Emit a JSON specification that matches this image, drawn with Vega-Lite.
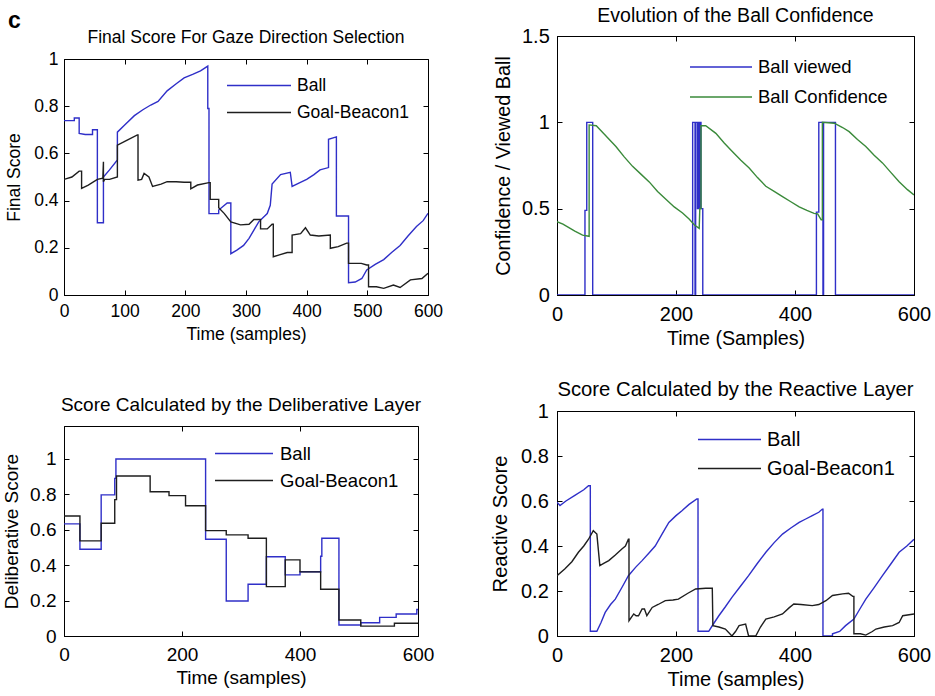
{
 "$schema": "https://vega.github.io/schema/vega-lite/v6.json",
 "background": "white",
 "padding": {"left": 2, "top": 5, "right": 3, "bottom": 3},
 "datasets": {
  "p1": [
   {"t":0,"v":0.739,"s":"Ball"},{"t":17,"v":0.739,"s":"Ball"},{"t":17,"v":0.75,"s":"Ball"},{"t":25,"v":0.75,"s":"Ball"},{"t":25,"v":0.685,"s":"Ball"},{"t":35,"v":0.68,"s":"Ball"},{"t":47,"v":0.68,"s":"Ball"},{"t":47,"v":0.70,"s":"Ball"},{"t":55,"v":0.70,"s":"Ball"},{"t":55,"v":0.306,"s":"Ball"},{"t":65,"v":0.306,"s":"Ball"},{"t":65,"v":0.50,"s":"Ball"},{"t":75,"v":0.53,"s":"Ball"},{"t":88,"v":0.572,"s":"Ball"},{"t":88,"v":0.69,"s":"Ball"},{"t":100,"v":0.72,"s":"Ball"},{"t":116,"v":0.76,"s":"Ball"},{"t":130,"v":0.785,"s":"Ball"},{"t":143,"v":0.805,"s":"Ball"},{"t":155,"v":0.82,"s":"Ball"},{"t":170,"v":0.865,"s":"Ball"},{"t":185,"v":0.895,"s":"Ball"},{"t":198,"v":0.92,"s":"Ball"},{"t":212,"v":0.935,"s":"Ball"},{"t":225,"v":0.95,"s":"Ball"},{"t":237,"v":0.97,"s":"Ball"},{"t":237,"v":0.79,"s":"Ball"},{"t":239,"v":0.79,"s":"Ball"},{"t":239,"v":0.345,"s":"Ball"},{"t":255,"v":0.345,"s":"Ball"},{"t":255,"v":0.36,"s":"Ball"},{"t":262,"v":0.375,"s":"Ball"},{"t":269,"v":0.39,"s":"Ball"},{"t":275,"v":0.39,"s":"Ball"},{"t":275,"v":0.175,"s":"Ball"},{"t":285,"v":0.19,"s":"Ball"},{"t":296,"v":0.21,"s":"Ball"},{"t":305,"v":0.24,"s":"Ball"},{"t":313,"v":0.275,"s":"Ball"},{"t":321,"v":0.31,"s":"Ball"},{"t":335,"v":0.345,"s":"Ball"},{"t":340,"v":0.38,"s":"Ball"},{"t":343,"v":0.47,"s":"Ball"},{"t":357,"v":0.51,"s":"Ball"},{"t":373,"v":0.52,"s":"Ball"},{"t":376,"v":0.46,"s":"Ball"},{"t":388,"v":0.475,"s":"Ball"},{"t":400,"v":0.49,"s":"Ball"},{"t":412,"v":0.51,"s":"Ball"},{"t":422,"v":0.53,"s":"Ball"},{"t":436,"v":0.54,"s":"Ball"},{"t":436,"v":0.66,"s":"Ball"},{"t":449,"v":0.67,"s":"Ball"},{"t":449,"v":0.335,"s":"Ball"},{"t":469,"v":0.335,"s":"Ball"},{"t":469,"v":0.052,"s":"Ball"},{"t":480,"v":0.055,"s":"Ball"},{"t":491,"v":0.07,"s":"Ball"},{"t":499,"v":0.106,"s":"Ball"},{"t":513,"v":0.13,"s":"Ball"},{"t":527,"v":0.15,"s":"Ball"},{"t":540,"v":0.18,"s":"Ball"},{"t":554,"v":0.21,"s":"Ball"},{"t":567,"v":0.25,"s":"Ball"},{"t":581,"v":0.29,"s":"Ball"},{"t":592,"v":0.315,"s":"Ball"},{"t":600,"v":0.346,"s":"Ball"},
   {"t":0,"v":0.49,"s":"Goal-Beacon1"},{"t":13,"v":0.50,"s":"Goal-Beacon1"},{"t":25,"v":0.525,"s":"Goal-Beacon1"},{"t":29,"v":0.525,"s":"Goal-Beacon1"},{"t":29,"v":0.452,"s":"Goal-Beacon1"},{"t":40,"v":0.466,"s":"Goal-Beacon1"},{"t":55,"v":0.49,"s":"Goal-Beacon1"},{"t":64,"v":0.495,"s":"Goal-Beacon1"},{"t":65,"v":0.565,"s":"Goal-Beacon1"},{"t":65,"v":0.48,"s":"Goal-Beacon1"},{"t":67,"v":0.49,"s":"Goal-Beacon1"},{"t":75,"v":0.49,"s":"Goal-Beacon1"},{"t":88,"v":0.50,"s":"Goal-Beacon1"},{"t":88,"v":0.635,"s":"Goal-Beacon1"},{"t":105,"v":0.657,"s":"Goal-Beacon1"},{"t":121,"v":0.678,"s":"Goal-Beacon1"},{"t":122,"v":0.678,"s":"Goal-Beacon1"},{"t":122,"v":0.487,"s":"Goal-Beacon1"},{"t":128,"v":0.49,"s":"Goal-Beacon1"},{"t":132,"v":0.515,"s":"Goal-Beacon1"},{"t":140,"v":0.50,"s":"Goal-Beacon1"},{"t":146,"v":0.46,"s":"Goal-Beacon1"},{"t":160,"v":0.47,"s":"Goal-Beacon1"},{"t":170,"v":0.48,"s":"Goal-Beacon1"},{"t":185,"v":0.48,"s":"Goal-Beacon1"},{"t":198,"v":0.478,"s":"Goal-Beacon1"},{"t":209,"v":0.478,"s":"Goal-Beacon1"},{"t":209,"v":0.45,"s":"Goal-Beacon1"},{"t":220,"v":0.466,"s":"Goal-Beacon1"},{"t":239,"v":0.476,"s":"Goal-Beacon1"},{"t":241,"v":0.476,"s":"Goal-Beacon1"},{"t":241,"v":0.405,"s":"Goal-Beacon1"},{"t":255,"v":0.405,"s":"Goal-Beacon1"},{"t":255,"v":0.37,"s":"Goal-Beacon1"},{"t":264,"v":0.346,"s":"Goal-Beacon1"},{"t":275,"v":0.31,"s":"Goal-Beacon1"},{"t":291,"v":0.297,"s":"Goal-Beacon1"},{"t":305,"v":0.30,"s":"Goal-Beacon1"},{"t":313,"v":0.32,"s":"Goal-Beacon1"},{"t":324,"v":0.32,"s":"Goal-Beacon1"},{"t":324,"v":0.28,"s":"Goal-Beacon1"},{"t":335,"v":0.28,"s":"Goal-Beacon1"},{"t":343,"v":0.30,"s":"Goal-Beacon1"},{"t":345,"v":0.30,"s":"Goal-Beacon1"},{"t":345,"v":0.162,"s":"Goal-Beacon1"},{"t":355,"v":0.17,"s":"Goal-Beacon1"},{"t":368,"v":0.18,"s":"Goal-Beacon1"},{"t":376,"v":0.18,"s":"Goal-Beacon1"},{"t":376,"v":0.254,"s":"Goal-Beacon1"},{"t":390,"v":0.26,"s":"Goal-Beacon1"},{"t":398,"v":0.285,"s":"Goal-Beacon1"},{"t":406,"v":0.254,"s":"Goal-Beacon1"},{"t":420,"v":0.25,"s":"Goal-Beacon1"},{"t":439,"v":0.254,"s":"Goal-Beacon1"},{"t":439,"v":0.198,"s":"Goal-Beacon1"},{"t":452,"v":0.205,"s":"Goal-Beacon1"},{"t":466,"v":0.22,"s":"Goal-Beacon1"},{"t":469,"v":0.22,"s":"Goal-Beacon1"},{"t":469,"v":0.134,"s":"Goal-Beacon1"},{"t":490,"v":0.134,"s":"Goal-Beacon1"},{"t":499,"v":0.127,"s":"Goal-Beacon1"},{"t":502,"v":0.127,"s":"Goal-Beacon1"},{"t":502,"v":0.035,"s":"Goal-Beacon1"},{"t":515,"v":0.035,"s":"Goal-Beacon1"},{"t":527,"v":0.028,"s":"Goal-Beacon1"},{"t":543,"v":0.042,"s":"Goal-Beacon1"},{"t":554,"v":0.032,"s":"Goal-Beacon1"},{"t":571,"v":0.064,"s":"Goal-Beacon1"},{"t":590,"v":0.07,"s":"Goal-Beacon1"},{"t":600,"v":0.092,"s":"Goal-Beacon1"}
  ],
  "p2": [
   {"t":0,"v":0,"s":"Ball viewed"},{"t":47,"v":0,"s":"Ball viewed"},{"t":47,"v":0.49,"s":"Ball viewed"},{"t":50,"v":0.49,"s":"Ball viewed"},{"t":50,"v":1,"s":"Ball viewed"},{"t":60,"v":1,"s":"Ball viewed"},{"t":60,"v":0,"s":"Ball viewed"},{"t":228,"v":0,"s":"Ball viewed"},{"t":228,"v":1,"s":"Ball viewed"},{"t":232,"v":1,"s":"Ball viewed"},{"t":232,"v":0,"s":"Ball viewed"},{"t":233,"v":0,"s":"Ball viewed"},{"t":233,"v":1,"s":"Ball viewed"},{"t":236,"v":1,"s":"Ball viewed"},{"t":236,"v":0.5,"s":"Ball viewed"},{"t":237,"v":0.5,"s":"Ball viewed"},{"t":237,"v":1,"s":"Ball viewed"},{"t":238,"v":1,"s":"Ball viewed"},{"t":238,"v":0.5,"s":"Ball viewed"},{"t":239,"v":0.5,"s":"Ball viewed"},{"t":239,"v":1,"s":"Ball viewed"},{"t":240,"v":1,"s":"Ball viewed"},{"t":240,"v":0.5,"s":"Ball viewed"},{"t":241,"v":0.5,"s":"Ball viewed"},{"t":241,"v":1,"s":"Ball viewed"},{"t":242,"v":1,"s":"Ball viewed"},{"t":242,"v":0.5,"s":"Ball viewed"},{"t":245,"v":0.5,"s":"Ball viewed"},{"t":245,"v":0,"s":"Ball viewed"},{"t":436,"v":0,"s":"Ball viewed"},{"t":436,"v":0.48,"s":"Ball viewed"},{"t":440,"v":0.48,"s":"Ball viewed"},{"t":440,"v":1,"s":"Ball viewed"},{"t":447,"v":1,"s":"Ball viewed"},{"t":447,"v":0,"s":"Ball viewed"},{"t":448,"v":0,"s":"Ball viewed"},{"t":448,"v":1,"s":"Ball viewed"},{"t":468,"v":1,"s":"Ball viewed"},{"t":468,"v":0,"s":"Ball viewed"},{"t":600,"v":0,"s":"Ball viewed"},
   {"t":0,"v":0.425,"s":"Ball Confidence"},{"t":10,"v":0.41,"s":"Ball Confidence"},{"t":20,"v":0.39,"s":"Ball Confidence"},{"t":30,"v":0.37,"s":"Ball Confidence"},{"t":43,"v":0.347,"s":"Ball Confidence"},{"t":54,"v":0.34,"s":"Ball Confidence"},{"t":54,"v":0.985,"s":"Ball Confidence"},{"t":66,"v":0.98,"s":"Ball Confidence"},{"t":80,"v":0.93,"s":"Ball Confidence"},{"t":99,"v":0.86,"s":"Ball Confidence"},{"t":113,"v":0.80,"s":"Ball Confidence"},{"t":127,"v":0.745,"s":"Ball Confidence"},{"t":141,"v":0.70,"s":"Ball Confidence"},{"t":155,"v":0.655,"s":"Ball Confidence"},{"t":169,"v":0.60,"s":"Ball Confidence"},{"t":183,"v":0.555,"s":"Ball Confidence"},{"t":197,"v":0.51,"s":"Ball Confidence"},{"t":211,"v":0.475,"s":"Ball Confidence"},{"t":222,"v":0.44,"s":"Ball Confidence"},{"t":231,"v":0.405,"s":"Ball Confidence"},{"t":239,"v":0.386,"s":"Ball Confidence"},{"t":240,"v":0.5,"s":"Ball Confidence"},{"t":242,"v":0.5,"s":"Ball Confidence"},{"t":242,"v":0.98,"s":"Ball Confidence"},{"t":250,"v":0.98,"s":"Ball Confidence"},{"t":267,"v":0.936,"s":"Ball Confidence"},{"t":281,"v":0.88,"s":"Ball Confidence"},{"t":295,"v":0.83,"s":"Ball Confidence"},{"t":309,"v":0.78,"s":"Ball Confidence"},{"t":323,"v":0.735,"s":"Ball Confidence"},{"t":337,"v":0.68,"s":"Ball Confidence"},{"t":351,"v":0.63,"s":"Ball Confidence"},{"t":365,"v":0.60,"s":"Ball Confidence"},{"t":379,"v":0.57,"s":"Ball Confidence"},{"t":393,"v":0.54,"s":"Ball Confidence"},{"t":407,"v":0.51,"s":"Ball Confidence"},{"t":420,"v":0.49,"s":"Ball Confidence"},{"t":432,"v":0.473,"s":"Ball Confidence"},{"t":438,"v":0.47,"s":"Ball Confidence"},{"t":444,"v":0.435,"s":"Ball Confidence"},{"t":446,"v":0.435,"s":"Ball Confidence"},{"t":446,"v":1.0,"s":"Ball Confidence"},{"t":466,"v":0.995,"s":"Ball Confidence"},{"t":480,"v":0.97,"s":"Ball Confidence"},{"t":491,"v":0.946,"s":"Ball Confidence"},{"t":505,"v":0.90,"s":"Ball Confidence"},{"t":519,"v":0.86,"s":"Ball Confidence"},{"t":533,"v":0.81,"s":"Ball Confidence"},{"t":547,"v":0.765,"s":"Ball Confidence"},{"t":561,"v":0.71,"s":"Ball Confidence"},{"t":575,"v":0.656,"s":"Ball Confidence"},{"t":589,"v":0.61,"s":"Ball Confidence"},{"t":600,"v":0.58,"s":"Ball Confidence"}
  ],
  "p3": [
   {"t":0,"v":0.633,"s":"Ball"},{"t":27,"v":0.49,"s":"Ball"},{"t":63,"v":0.797,"s":"Ball"},{"t":86,"v":0.89,"s":"Ball"},{"t":88,"v":1.0,"s":"Ball"},{"t":240,"v":0.546,"s":"Ball"},{"t":275,"v":0.198,"s":"Ball"},{"t":312,"v":0.292,"s":"Ball"},{"t":343,"v":0.448,"s":"Ball"},{"t":375,"v":0.345,"s":"Ball"},{"t":400,"v":0.363,"s":"Ball"},{"t":435,"v":0.45,"s":"Ball"},{"t":437,"v":0.552,"s":"Ball"},{"t":466,"v":0.062,"s":"Ball"},{"t":503,"v":0.075,"s":"Ball"},{"t":535,"v":0.105,"s":"Ball"},{"t":563,"v":0.124,"s":"Ball"},{"t":598,"v":0.15,"s":"Ball"},{"t":600,"v":0.15,"s":"Ball"},
   {"t":0,"v":0.678,"s":"Goal-Beacon1"},{"t":27,"v":0.537,"s":"Goal-Beacon1"},{"t":63,"v":0.637,"s":"Goal-Beacon1"},{"t":86,"v":0.77,"s":"Goal-Beacon1"},{"t":89,"v":0.904,"s":"Goal-Beacon1"},{"t":146,"v":0.815,"s":"Goal-Beacon1"},{"t":178,"v":0.793,"s":"Goal-Beacon1"},{"t":206,"v":0.736,"s":"Goal-Beacon1"},{"t":240,"v":0.595,"s":"Goal-Beacon1"},{"t":275,"v":0.571,"s":"Goal-Beacon1"},{"t":312,"v":0.552,"s":"Goal-Beacon1"},{"t":343,"v":0.279,"s":"Goal-Beacon1"},{"t":375,"v":0.43,"s":"Goal-Beacon1"},{"t":400,"v":0.362,"s":"Goal-Beacon1"},{"t":435,"v":0.264,"s":"Goal-Beacon1"},{"t":466,"v":0.09,"s":"Goal-Beacon1"},{"t":503,"v":0.056,"s":"Goal-Beacon1"},{"t":560,"v":0.072,"s":"Goal-Beacon1"},{"t":600,"v":0.072,"s":"Goal-Beacon1"}
  ],
  "p4": [
   {"t":0,"v":0.594,"s":"Ball"},{"t":5,"v":0.58,"s":"Ball"},{"t":15,"v":0.60,"s":"Ball"},{"t":30,"v":0.625,"s":"Ball"},{"t":45,"v":0.65,"s":"Ball"},{"t":53,"v":0.668,"s":"Ball"},{"t":56,"v":0.668,"s":"Ball"},{"t":56,"v":0.021,"s":"Ball"},{"t":67,"v":0.021,"s":"Ball"},{"t":74,"v":0.06,"s":"Ball"},{"t":81,"v":0.105,"s":"Ball"},{"t":90,"v":0.14,"s":"Ball"},{"t":98,"v":0.164,"s":"Ball"},{"t":110,"v":0.22,"s":"Ball"},{"t":120,"v":0.268,"s":"Ball"},{"t":132,"v":0.305,"s":"Ball"},{"t":143,"v":0.335,"s":"Ball"},{"t":155,"v":0.37,"s":"Ball"},{"t":165,"v":0.40,"s":"Ball"},{"t":177,"v":0.455,"s":"Ball"},{"t":188,"v":0.505,"s":"Ball"},{"t":200,"v":0.535,"s":"Ball"},{"t":210,"v":0.557,"s":"Ball"},{"t":222,"v":0.585,"s":"Ball"},{"t":235,"v":0.609,"s":"Ball"},{"t":237,"v":0.609,"s":"Ball"},{"t":237,"v":0.021,"s":"Ball"},{"t":255,"v":0.021,"s":"Ball"},{"t":262,"v":0.05,"s":"Ball"},{"t":272,"v":0.09,"s":"Ball"},{"t":283,"v":0.13,"s":"Ball"},{"t":294,"v":0.172,"s":"Ball"},{"t":308,"v":0.22,"s":"Ball"},{"t":322,"v":0.268,"s":"Ball"},{"t":336,"v":0.32,"s":"Ball"},{"t":351,"v":0.372,"s":"Ball"},{"t":365,"v":0.415,"s":"Ball"},{"t":379,"v":0.453,"s":"Ball"},{"t":393,"v":0.48,"s":"Ball"},{"t":407,"v":0.505,"s":"Ball"},{"t":418,"v":0.52,"s":"Ball"},{"t":429,"v":0.535,"s":"Ball"},{"t":440,"v":0.55,"s":"Ball"},{"t":446,"v":0.564,"s":"Ball"},{"t":447,"v":0.564,"s":"Ball"},{"t":447,"v":0,"s":"Ball"},{"t":463,"v":0,"s":"Ball"},{"t":463,"v":0.01,"s":"Ball"},{"t":475,"v":0.02,"s":"Ball"},{"t":485,"v":0.046,"s":"Ball"},{"t":499,"v":0.075,"s":"Ball"},{"t":509,"v":0.12,"s":"Ball"},{"t":519,"v":0.164,"s":"Ball"},{"t":533,"v":0.215,"s":"Ball"},{"t":547,"v":0.268,"s":"Ball"},{"t":561,"v":0.32,"s":"Ball"},{"t":575,"v":0.372,"s":"Ball"},{"t":588,"v":0.40,"s":"Ball"},{"t":600,"v":0.43,"s":"Ball"},
   {"t":0,"v":0.268,"s":"Goal-Beacon1"},{"t":13,"v":0.298,"s":"Goal-Beacon1"},{"t":25,"v":0.33,"s":"Goal-Beacon1"},{"t":36,"v":0.372,"s":"Goal-Beacon1"},{"t":45,"v":0.40,"s":"Goal-Beacon1"},{"t":53,"v":0.43,"s":"Goal-Beacon1"},{"t":61,"v":0.468,"s":"Goal-Beacon1"},{"t":67,"v":0.453,"s":"Goal-Beacon1"},{"t":72,"v":0.313,"s":"Goal-Beacon1"},{"t":80,"v":0.325,"s":"Goal-Beacon1"},{"t":87,"v":0.335,"s":"Goal-Beacon1"},{"t":98,"v":0.36,"s":"Goal-Beacon1"},{"t":109,"v":0.387,"s":"Goal-Beacon1"},{"t":115,"v":0.40,"s":"Goal-Beacon1"},{"t":120,"v":0.43,"s":"Goal-Beacon1"},{"t":121,"v":0.43,"s":"Goal-Beacon1"},{"t":121,"v":0.068,"s":"Goal-Beacon1"},{"t":129,"v":0.098,"s":"Goal-Beacon1"},{"t":133,"v":0.09,"s":"Goal-Beacon1"},{"t":137,"v":0.09,"s":"Goal-Beacon1"},{"t":143,"v":0.12,"s":"Goal-Beacon1"},{"t":147,"v":0.12,"s":"Goal-Beacon1"},{"t":151,"v":0.09,"s":"Goal-Beacon1"},{"t":160,"v":0.127,"s":"Goal-Beacon1"},{"t":170,"v":0.14,"s":"Goal-Beacon1"},{"t":182,"v":0.157,"s":"Goal-Beacon1"},{"t":195,"v":0.16,"s":"Goal-Beacon1"},{"t":204,"v":0.164,"s":"Goal-Beacon1"},{"t":220,"v":0.19,"s":"Goal-Beacon1"},{"t":233,"v":0.209,"s":"Goal-Beacon1"},{"t":250,"v":0.212,"s":"Goal-Beacon1"},{"t":261,"v":0.212,"s":"Goal-Beacon1"},{"t":262,"v":0.046,"s":"Goal-Beacon1"},{"t":272,"v":0.04,"s":"Goal-Beacon1"},{"t":283,"v":0.031,"s":"Goal-Beacon1"},{"t":294,"v":0,"s":"Goal-Beacon1"},{"t":300,"v":0.02,"s":"Goal-Beacon1"},{"t":306,"v":0.046,"s":"Goal-Beacon1"},{"t":317,"v":0.053,"s":"Goal-Beacon1"},{"t":322,"v":0,"s":"Goal-Beacon1"},{"t":334,"v":0,"s":"Goal-Beacon1"},{"t":342,"v":0.04,"s":"Goal-Beacon1"},{"t":351,"v":0.075,"s":"Goal-Beacon1"},{"t":365,"v":0.085,"s":"Goal-Beacon1"},{"t":379,"v":0.098,"s":"Goal-Beacon1"},{"t":390,"v":0.125,"s":"Goal-Beacon1"},{"t":398,"v":0.142,"s":"Goal-Beacon1"},{"t":410,"v":0.14,"s":"Goal-Beacon1"},{"t":429,"v":0.135,"s":"Goal-Beacon1"},{"t":440,"v":0.14,"s":"Goal-Beacon1"},{"t":452,"v":0.157,"s":"Goal-Beacon1"},{"t":463,"v":0.18,"s":"Goal-Beacon1"},{"t":480,"v":0.187,"s":"Goal-Beacon1"},{"t":490,"v":0.19,"s":"Goal-Beacon1"},{"t":497,"v":0.176,"s":"Goal-Beacon1"},{"t":499,"v":0.176,"s":"Goal-Beacon1"},{"t":499,"v":0.01,"s":"Goal-Beacon1"},{"t":510,"v":0.01,"s":"Goal-Beacon1"},{"t":519,"v":0.004,"s":"Goal-Beacon1"},{"t":530,"v":0.02,"s":"Goal-Beacon1"},{"t":536,"v":0.031,"s":"Goal-Beacon1"},{"t":550,"v":0.04,"s":"Goal-Beacon1"},{"t":564,"v":0.046,"s":"Goal-Beacon1"},{"t":575,"v":0.06,"s":"Goal-Beacon1"},{"t":581,"v":0.09,"s":"Goal-Beacon1"},{"t":600,"v":0.098,"s":"Goal-Beacon1"}
  ]
 },
 "resolve": {"scale": {"color": "independent"}, "legend": {"color": "independent"}},
 "hconcat": [
  {
   "spacing": 51,
   "resolve": {"scale": {"color": "independent"}, "legend": {"color": "independent"}},
   "vconcat": [
    {
     "spacing": -9,
     "resolve": {"scale": {"color": "independent"}, "legend": {"color": "independent"}},
     "vconcat": [
      {
       "width": 20, "height": 1,
       "data": {"values": []},
       "mark": "point",
       "view": {"stroke": null},
       "title": {"text": "c", "anchor": "start", "fontSize": 23, "fontWeight": "bold", "dx": -56, "offset": 3}
      },
      {
       "width": 364, "height": 236,
       "title": {"text": "Final Score For Gaze Direction Selection", "fontSize": 17.5, "offset": 4},
       "data": {"name": "p1"},
       "layer": [
        {
         "mark": {"type": "line", "strokeWidth": 1.4, "clip": true},
         "encoding": {
          "x": {"field": "t", "type": "quantitative", "scale": {"domain": [0, 600], "nice": false},
                "axis": {"orient": "bottom", "values": [0, 100, 200, 300, 400, 500, 600], "format": "d", "title": "Time (samples)", "labelFontSize": 17.5, "titleFontSize": 17.5, "labelPadding": 12, "titlePadding": 6}},
          "y": {"field": "v", "type": "quantitative", "scale": {"domain": [0, 1], "nice": false},
                "axis": {"orient": "left", "values": [0, 0.2, 0.4, 0.6, 0.8, 1], "format": "~g", "title": "Final Score", "labelFontSize": 17.5, "titleFontSize": 17.5, "labelPadding": 11, "titlePadding": 10}},
          "color": {"field": "s", "type": "nominal", "scale": {"domain": ["Ball", "Goal-Beacon1"], "range": ["#2f2fc8", "#1e1e1e"]},
                    "legend": {"title": null, "orient": "none", "legendX": 162, "legendY": 13, "symbolType": "stroke", "symbolSize": 4096, "symbolStrokeWidth": 1.5, "clipHeight": 27, "rowPadding": 0, "padding": 0, "labelFontSize": 17.5, "labelOffset": 5, "labelColor": "#000"}},
          "order": {"value": null}
         }
        },
        {
         "mark": {"type": "line", "opacity": 0},
         "encoding": {
          "x": {"field": "t", "type": "quantitative", "scale": {"domain": [0, 600], "nice": false},
                "axis": {"orient": "top", "values": [0, 100, 200, 300, 400, 500, 600], "labels": false, "title": null, "domain": false}},
          "y": {"field": "v", "type": "quantitative", "scale": {"domain": [0, 1], "nice": false},
                "axis": {"orient": "right", "values": [0, 0.2, 0.4, 0.6, 0.8, 1], "labels": false, "title": null, "domain": false}},
          "detail": {"field": "s"},
          "order": {"value": null}
         }
        }
       ]
      }
     ]
    },
    {
     "width": 354, "height": 210,
     "title": {"text": "Score Calculated by the Deliberative Layer", "fontSize": 19, "offset": 11},
     "data": {"name": "p3"},
     "layer": [
      {
       "mark": {"type": "line", "strokeWidth": 1.4, "interpolate": "step-after", "clip": true},
       "encoding": {
        "x": {"field": "t", "type": "quantitative", "scale": {"domain": [0, 600], "nice": false},
              "axis": {"orient": "bottom", "values": [0, 200, 400, 600], "format": "d", "title": "Time (samples)", "labelFontSize": 19, "titleFontSize": 19, "labelPadding": 14, "titlePadding": 4}},
        "y": {"field": "v", "type": "quantitative", "scale": {"domain": [0, 1.186], "nice": false},
              "axis": {"orient": "left", "values": [0, 0.2, 0.4, 0.6, 0.8, 1], "format": "~g", "title": "Deliberative Score", "labelFontSize": 19, "titleFontSize": 19, "labelPadding": 13, "titlePadding": 8}},
        "color": {"field": "s", "type": "nominal", "scale": {"domain": ["Ball", "Goal-Beacon1"], "range": ["#2f2fc8", "#1e1e1e"]},
                  "legend": {"title": null, "orient": "none", "legendX": 150, "legendY": 14, "symbolType": "stroke", "symbolSize": 3364, "symbolStrokeWidth": 1.5, "clipHeight": 27, "rowPadding": 0, "padding": 0, "labelFontSize": 18.5, "labelOffset": 6, "labelColor": "#000"}},
        "order": {"value": null}
       }
      },
      {
       "mark": {"type": "line", "opacity": 0},
       "encoding": {
        "x": {"field": "t", "type": "quantitative", "scale": {"domain": [0, 600], "nice": false},
              "axis": {"orient": "top", "values": [0, 200, 400, 600], "labels": false, "title": null, "domain": false}},
        "y": {"field": "v", "type": "quantitative", "scale": {"domain": [0, 1.186], "nice": false},
              "axis": {"orient": "right", "values": [0, 0.2, 0.4, 0.6, 0.8, 1], "labels": false, "title": null, "domain": false}},
        "detail": {"field": "s"},
        "order": {"value": null}
       }
      }
     ]
    }
   ]
  },
  {
   "spacing": 30,
   "resolve": {"scale": {"color": "independent"}, "legend": {"color": "independent"}},
   "vconcat": [
    {
     "width": 357, "height": 259,
     "title": {"text": "Evolution of the Ball Confidence", "fontSize": 19.5, "offset": 0},
     "data": {"name": "p2"},
     "layer": [
      {
       "mark": {"type": "line", "strokeWidth": 1.4, "clip": true},
       "encoding": {
        "x": {"field": "t", "type": "quantitative", "scale": {"domain": [0, 600], "nice": false},
              "axis": {"orient": "bottom", "values": [0, 200, 400, 600], "format": "d", "title": "Time (Samples)", "labelFontSize": 20, "titleFontSize": 19.7, "labelPadding": 14, "titlePadding": 4}},
        "y": {"field": "v", "type": "quantitative", "scale": {"domain": [0, 1.5], "nice": false},
              "axis": {"orient": "left", "values": [0, 0.5, 1, 1.5], "format": "~g", "title": "Confidence / Viewed Ball", "labelFontSize": 20, "titleFontSize": 19.8, "labelPadding": 12.7, "titlePadding": 8}},
        "color": {"field": "s", "type": "nominal", "scale": {"domain": ["Ball viewed", "Ball Confidence"], "range": ["#2f2fc8", "#3a8a3a"]},
                  "legend": {"title": null, "orient": "none", "legendX": 132, "legendY": 16, "symbolType": "stroke", "symbolSize": 3844, "symbolStrokeWidth": 1.5, "clipHeight": 30, "rowPadding": 0, "padding": 0, "labelFontSize": 18.5, "labelOffset": 5, "labelColor": "#000"}},
        "order": {"value": null}
       }
      },
      {
       "mark": {"type": "line", "opacity": 0},
       "encoding": {
        "x": {"field": "t", "type": "quantitative", "scale": {"domain": [0, 600], "nice": false},
              "axis": {"orient": "top", "values": [0, 200, 400, 600], "labels": false, "title": null, "domain": false}},
        "y": {"field": "v", "type": "quantitative", "scale": {"domain": [0, 1.5], "nice": false},
              "axis": {"orient": "right", "values": [0, 0.5, 1, 1.5], "labels": false, "title": null, "domain": false}},
        "detail": {"field": "s"},
        "order": {"value": null}
       }
      }
     ]
    },
    {
     "width": 357, "height": 225,
     "title": {"text": "Score Calculated by the Reactive Layer", "fontSize": 20.3, "offset": 1},
     "data": {"name": "p4"},
     "layer": [
      {
       "mark": {"type": "line", "strokeWidth": 1.4, "clip": true},
       "encoding": {
        "x": {"field": "t", "type": "quantitative", "scale": {"domain": [0, 600], "nice": false},
              "axis": {"orient": "bottom", "values": [0, 200, 400, 600], "format": "d", "title": "Time (samples)", "labelFontSize": 20, "titleFontSize": 20, "labelPadding": 14.7, "titlePadding": 3.5}},
        "y": {"field": "v", "type": "quantitative", "scale": {"domain": [0, 1], "nice": false},
              "axis": {"orient": "left", "values": [0, 0.2, 0.4, 0.6, 0.8, 1], "format": "~g", "title": "Reactive Score", "labelFontSize": 20, "titleFontSize": 20.2, "labelPadding": 13.7, "titlePadding": 9.5}},
        "color": {"field": "s", "type": "nominal", "scale": {"domain": ["Ball", "Goal-Beacon1"], "range": ["#2f2fc8", "#1e1e1e"]},
                  "legend": {"title": null, "orient": "none", "legendX": 140, "legendY": 14, "symbolType": "stroke", "symbolSize": 3969, "symbolStrokeWidth": 1.5, "clipHeight": 29, "rowPadding": 0, "padding": 0, "labelFontSize": 20, "labelOffset": 5, "labelColor": "#000"}},
        "order": {"value": null}
       }
      },
      {
       "mark": {"type": "line", "opacity": 0},
       "encoding": {
        "x": {"field": "t", "type": "quantitative", "scale": {"domain": [0, 600], "nice": false},
              "axis": {"orient": "top", "values": [0, 200, 400, 600], "labels": false, "title": null, "domain": false}},
        "y": {"field": "v", "type": "quantitative", "scale": {"domain": [0, 1], "nice": false},
              "axis": {"orient": "right", "values": [0, 0.2, 0.4, 0.6, 0.8, 1], "labels": false, "title": null, "domain": false}},
        "detail": {"field": "s"},
        "order": {"value": null}
       }
      }
     ]
    }
   ]
  }
 ],
 "spacing": 46,
 "config": {
  "font": "Liberation Sans",
  "view": {"stroke": "#000", "strokeWidth": 1},
  "axis": {"grid": false, "domainColor": "#000", "tickColor": "#000", "labelColor": "#000", "titleColor": "#000", "tickSize": -5, "titleFontWeight": "normal", "labelFlush": false, "labelOverlap": false, "domainWidth": 1, "tickWidth": 1},
  "title": {"color": "#000", "fontWeight": "normal", "baseline": "bottom"}
 }
}
